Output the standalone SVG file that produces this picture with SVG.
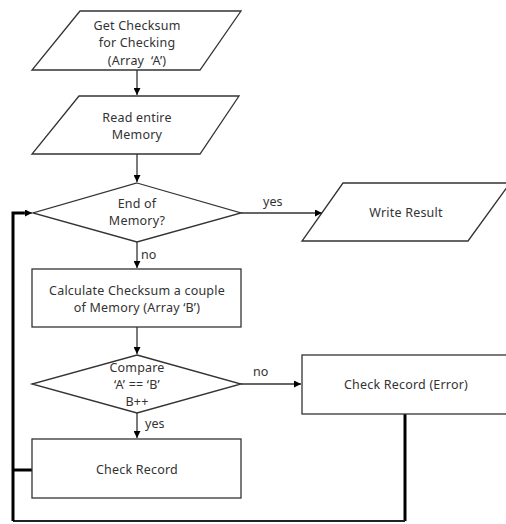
<svg xmlns="http://www.w3.org/2000/svg" width="506" height="524" viewBox="0 0 506 524">
<style>
.s{fill:#fff;stroke:#333;stroke-width:1.3}
.t{font-family:"Noto Sans","Open Sans",sans-serif;font-size:12.5px;letter-spacing:0.2px;fill:#333;text-anchor:middle;white-space:pre}
.l{font-family:"Noto Sans","Open Sans",sans-serif;font-size:12.5px;fill:#333;white-space:pre}
.c{fill:none;stroke:#333;stroke-width:1.3}
.k{fill:none;stroke:#000;stroke-width:3}
</style>
<defs>
<marker id="a" viewBox="0 0 10 10" refX="10" refY="5" markerWidth="7" markerHeight="7" markerUnits="userSpaceOnUse" orient="auto"><path d="M0,0L10,5L0,10Z" fill="#000"/></marker>
</defs>
<rect width="506" height="524" fill="#fff"/>
<g id="connectors">
<path class="c" d="M137,70V95" marker-end="url(#a)"/>
<path class="c" d="M137,154V182" marker-end="url(#a)"/>
<path class="c" d="M137,242V268" marker-end="url(#a)"/>
<path class="c" d="M241,213H322" marker-end="url(#a)"/>
<path class="c" d="M137,327V354" marker-end="url(#a)"/>
<path class="c" d="M241,384H301" marker-end="url(#a)"/>
<path class="c" d="M137,413V438" marker-end="url(#a)"/>
<path class="k" d="M405,414V521"/>
<path fill="none" stroke="#222" stroke-width="2" d="M13,521H405"/>
<path class="k" d="M32,470H13"/>
<path class="k" d="M13,521V213H26"/>
<path class="c" d="M24,213H32" marker-end="url(#a)"/>
<text class="l" x="263" y="206">yes</text>
<text class="l" x="141" y="259">no</text>
<text class="l" x="253" y="376">no</text>
<text class="l" x="145" y="428">yes</text>
</g>
<g id="n1">
<path class="s" d="M80,11H241L200,70H32Z"/>
<text class="t" x="137" y="30">Get Checksum</text>
<text class="t" x="137" y="47">for Checking</text>
<text class="t" x="137" y="65">(Array  ‘A’)</text>
</g>
<g id="n2">
<path class="s" d="M79,96H239L200,154H32Z"/>
<text class="t" x="137" y="122">Read entire</text>
<text class="t" x="137" y="139">Memory</text>
</g>
<g id="n3">
<path class="s" d="M137,183L241,213L137,242L33,213Z"/>
<text class="t" x="137" y="208">End of</text>
<text class="t" x="137" y="225">Memory?</text>
</g>
<g id="n4">
<path class="s" d="M343,183H510L468,241H302Z"/>
<text class="t" x="406" y="217">Write Result</text>
</g>
<g id="n5">
<rect class="s" x="32" y="269" width="209" height="58"/>
<text class="t" x="137" y="295">Calculate Checksum a couple</text>
<text class="t" x="137" y="312">of Memory (Array ‘B’)</text>
</g>
<g id="n6">
<path class="s" d="M137,355L241,384L137,413L32,384Z"/>
<text class="t" x="137" y="372">Compare</text>
<text class="t" x="137" y="389">‘A’ == ‘B’</text>
<text class="t" x="137" y="406">B++</text>
</g>
<g id="n7">
<rect class="s" x="302" y="355" width="210" height="59"/>
<text class="t" x="406" y="389">Check Record (Error)</text>
</g>
<g id="n8">
<rect class="s" x="32" y="439" width="209" height="59"/>
<text class="t" x="137" y="474">Check Record</text>
</g>
</svg>
